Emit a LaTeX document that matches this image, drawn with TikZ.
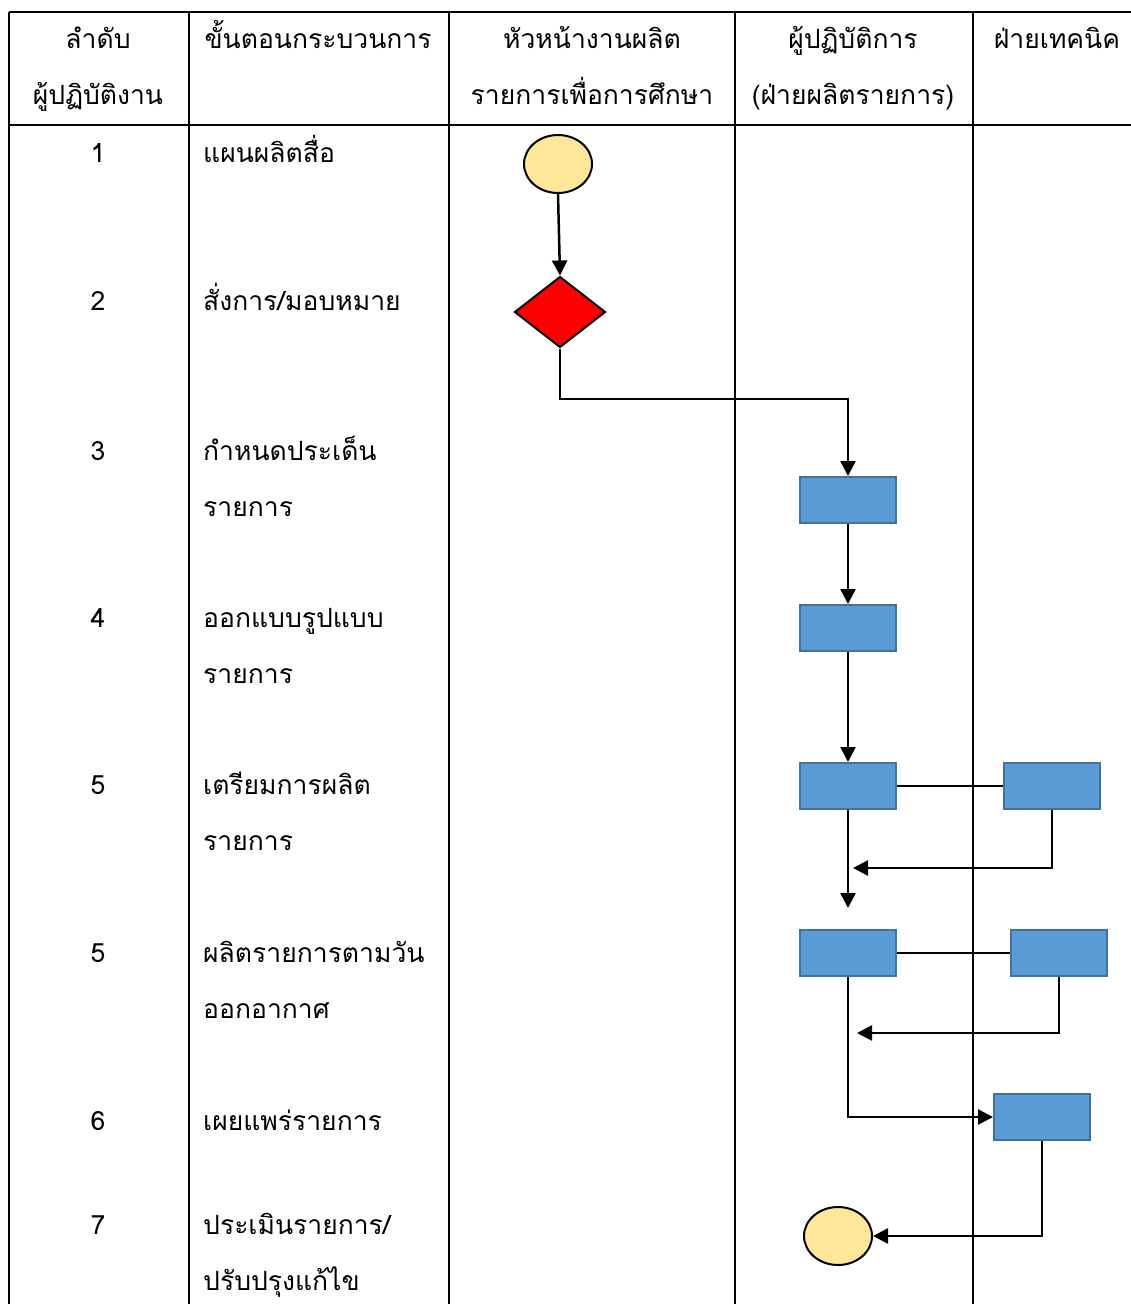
\documentclass[tikz,border=0pt]{standalone}
\usepackage{fontspec}
\newfontfamily\thaifont[Script=Thai]{Loma}
\usetikzlibrary{shapes.geometric, arrows.meta}
\definecolor{startfill}{HTML}{FFE699}
\definecolor{boxfill}{HTML}{5B9BD5}
\definecolor{boxline}{HTML}{41719C}
\tikzset{grid/.style={line width=2.4pt},
         txt/.style={font=\thaifont\fontsize{26.5}{56}\selectfont, inner sep=0pt},
         terminal/.style={draw, ellipse, fill=startfill, line width=2pt, minimum width=68pt, minimum height=58pt, inner sep=0pt},
         decision/.style={draw, diamond, fill=red, line width=2pt, minimum width=91pt, minimum height=71pt, inner sep=0pt, aspect=1.28},
         process/.style={draw=boxline, fill=boxfill, line width=2pt, minimum width=96pt, minimum height=46pt, inner sep=0pt},
         flow/.style={line width=2.5pt, -{Triangle[length=15pt,width=15pt]}},
         link/.style={line width=2.5pt},
        }

\begin{document}
\begin{tikzpicture}[x=1pt,y=-1pt]
        \useasboundingbox (0,0) rectangle (1131,1304);
        \draw[grid](9,12)--(1131,12);
        \draw[grid](9,125)--(1131,125);
        \foreach \x in {9,189,449,735,973}
            \draw[grid](\x,12)--(\x,1304);

        \node[txt,anchor=base,align=center](h1)at(98,104){ลำดับ\\ผู้ปฏิบัติงาน};
        \node[txt,anchor=base](h2)at(318,48){ขั้นตอนกระบวนการ};
        \node[txt,anchor=base,align=center](h3)at(592,104){หัวหน้างานผลิต\\รายการเพื่อการศึกษา};
        \node[txt,anchor=base,align=center](h4)at(853,104){ผู้ปฏิบัติการ\\(ฝ่ายผลิตรายการ)};
        \node[txt,anchor=base](h5)at(1057,48){ฝ่ายเทคนิค};

        \node[txt,anchor=base](n1)at(98,162){1};
        \node[txt,anchor=base](n2)at(98,310){2};
        \node[txt,anchor=base](n3)at(98,460){3};
        \node[txt,anchor=base](n4)at(98,627){4};
        \node[txt,anchor=base](n5)at(98,794){5};
        \node[txt,anchor=base](n6)at(98,962){5};
        \node[txt,anchor=base](n7)at(98,1130){6};
        \node[txt,anchor=base](n8)at(98,1234){7};

        \node[txt,anchor=base west](s1)at(203,162){แผนผลิตสื่อ};
        \node[txt,anchor=base west](s2)at(203,310){สั่งการ/มอบหมาย};
        \node[txt,anchor=base west,align=left](s3)at(203,516){กำหนดประเด็น\\รายการ};
        \node[txt,anchor=base west,align=left](s4)at(203,683){ออกแบบรูปแบบ\\รายการ};
        \node[txt,anchor=base west,align=left](s5)at(203,850){เตรียมการผลิต\\รายการ};
        \node[txt,anchor=base west,align=left](s6)at(203,1018){ผลิตรายการตามวัน\\ออกอากาศ};
        \node[txt,anchor=base west](s7)at(203,1130){เผยแพร่รายการ};
        \node[txt,anchor=base west,align=left](s8)at(203,1290){ประเมินรายการ/\\ปรับปรุงแก้ไข};

        \node[terminal](start)at(558,164){};
        \node[decision](assign)at(560,312){};
        \node[process](topic)at(848,500){};
        \node[process](design)at(848,628){};
        \node[process](prep)at(848,786){};
        \node[process](prept)at(1052,786){};
        \node[process](prod)at(848,953){};
        \node[process](prodt)at(1059,953){};
        \node[process](pub)at(1042,1117){};
        \node[terminal](stop)at(838,1236){};

        \coordinate(bend)at(848,399);
        \coordinate(down)at(848,908);
        \coordinate(back)at(853,868);
        \coordinate(back2)at(857,1033);

        \draw[flow](start.270)--(assign.90);
        \draw[flow](assign.270)|-(bend)--(topic.90);
        \draw[flow](topic.270)--(design.90);
        \draw[flow](design.270)--(prep.90);
        \draw[link](prep.0)--(prept.180);
        \draw[flow](prep.270)--(down);
        \draw[flow](prept.270)|-(back);
        \draw[link](prod.0)--(prodt.180);
        \draw[flow](prodt.270)|-(back2);
        \draw[flow](prod.270)|-(pub.180);
        \draw[flow](pub.270)|-(stop.0);
\end{tikzpicture}
\end{document}
